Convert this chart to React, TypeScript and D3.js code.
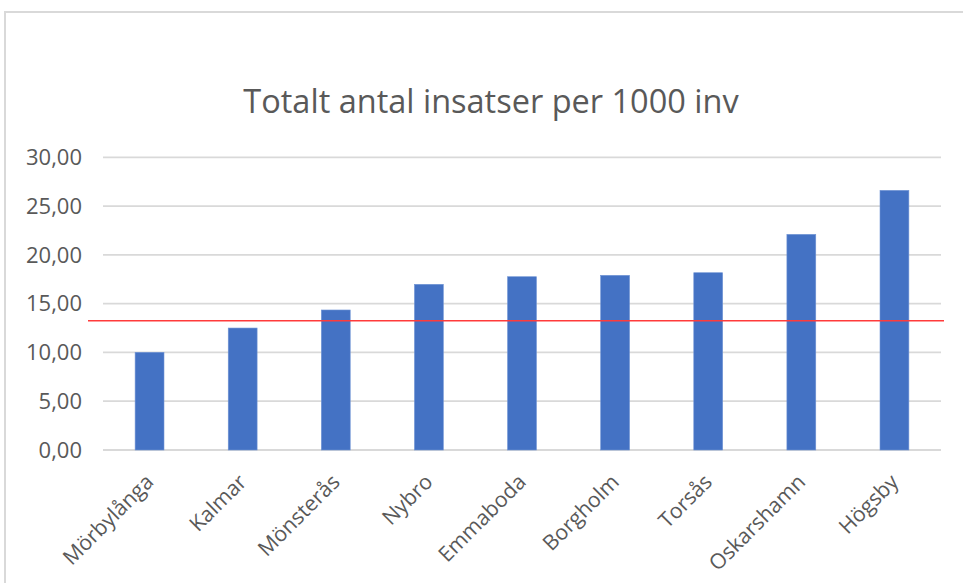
import React from "react";
import * as d3 from "d3";

const title = "Totalt antal insatser per 1000 inv";
const categories = ["Mörbylånga", "Kalmar", "Mönsterås", "Nybro", "Emmaboda", "Borgholm", "Torsås", "Oskarshamn", "Högsby"];
const values = [10.01, 12.5, 14.35, 16.98, 17.76, 17.9, 18.17, 22.1, 26.61];
const referenceValue = 13.25;
const yTicks = [0, 5, 10, 15, 20, 25, 30];

const W = 963;
const H = 583;
const FONT = "'Open Sans', 'Noto Sans', sans-serif";
const TEXT = "#595959";

export default function App() {
  const x = d3.scaleBand<string>().domain(categories).range([103, 941]).paddingInner(0.69).paddingOuter(0.345);
  const y = d3.scaleLinear().domain([0, 30]).range([450, 157.3]);
  const fmt = (v: number) => v.toFixed(2).replace(".", ",");

  return (
    <svg width={W} height={H} style={{ position: "absolute", left: 0, top: 0, background: "#fff" }} fontFamily={FONT}>
      <rect x={0} y={0} width={W} height={H} fill="#fff" />
      <rect x={5} y={12} width={W + 20} height={H + 20} fill="none" stroke="#d9d9d9" strokeWidth={2} />
      <text x={491} y={113} textAnchor="middle" fontSize={32.5} fill={TEXT}>{title}</text>
      {yTicks.map((t) => (
        <g key={t}>
          <line x1={103} x2={941} y1={y(t)} y2={y(t)} stroke="#d9d9d9" strokeWidth={1.8} />
          <text x={82} y={y(t)} dy="0.35em" textAnchor="end" fontSize={22} fill={TEXT}>{fmt(t)}</text>
        </g>
      ))}
      {categories.map((c, i) => (
        <rect key={c} x={x(c)} y={y(values[i])} width={x.bandwidth()} height={y(0) - y(values[i])} fill="#4472C4" stroke="#6f93d4" strokeWidth={0.6} />
      ))}
      <line x1={88} x2={944} y1={y(referenceValue)} y2={y(referenceValue)} stroke="#ff3b3b" strokeWidth={1.6} />
      {categories.map((c) => {
        const cx = (x(c) as number) + x.bandwidth() / 2;
        return (
          <text key={c} transform={`translate(${cx},${478}) rotate(-45)`} textAnchor="end" dy="0.35em" fontSize={21.2} fill={TEXT}>{c}</text>
        );
      })}
    </svg>
  );
}
